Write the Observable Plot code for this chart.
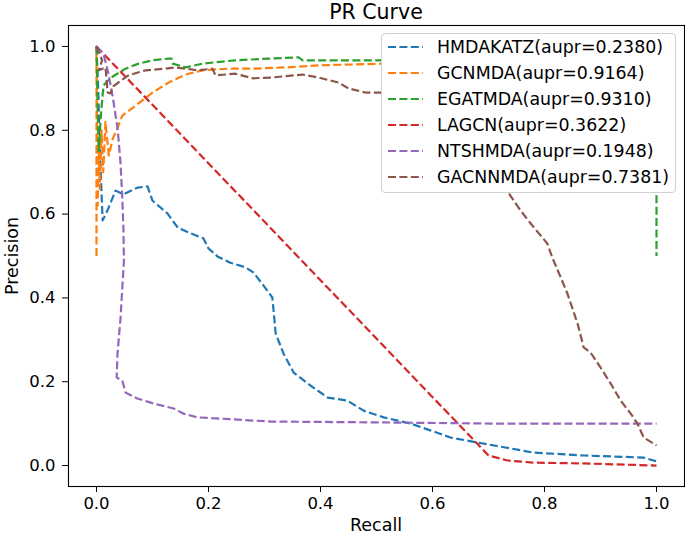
<!DOCTYPE html>
<html>
<head>
<meta charset="utf-8">
<script src="https://cdn.jsdelivr.net/npm/d3@7"></script>
<script src="https://cdn.jsdelivr.net/npm/@observablehq/plot@0.6"></script>
<style>
  html, body { margin: 0; padding: 0; background: #fff; }
  #wrap { position: relative; width: 685px; height: 539px; font-family: "DejaVu Sans", sans-serif; color: #000; }
  #wrap > svg { position: absolute; left: 0; top: 0; }
  .title { position: absolute; left: 68px; width: 616px; top: 0px; text-align: center; font-size: 20.5px; line-height: 24px; }
  .xlabel { position: absolute; left: 68px; width: 616px; top: 514px; text-align: center; font-size: 17.5px; line-height: 22px; }
  .ylabel { position: absolute; left: 12px; top: 256px; font-size: 17.5px; line-height: 22px; transform: translate(-50%, -50%) rotate(-90deg); white-space: nowrap; }
  .legend { position: absolute; left: 381px; top: 33px; width: 295px; height: 160px; background: #fff; border: 1px solid #d0d0d0; border-radius: 4px; box-sizing: border-box; }
  .legend .row { position: absolute; left: 6px; height: 22px; display: flex; align-items: center; font-size: 17.4px; line-height: 22px; white-space: nowrap; }
  .legend .row svg { margin-right: 14px; display: block; }
</style>
</head>
<body>
<div id="wrap"></div>
<script>
// ---- data ----
const models = ["HMDAKATZ", "GCNMDA", "EGATMDA", "LAGCN", "NTSHMDA", "GACNNMDA"];
const auprs = ["0.2380", "0.9164", "0.9310", "0.3622", "0.1948", "0.7381"];
const ticks = [0, 0.2, 0.4, 0.6, 0.8, 1.0];

// [recall, precision]
const HMDAKATZ = [[0,1.0],[0.003,0.9],[0.006,0.75],[0.011,0.585],[0.02,0.61],[0.034,0.656],[0.048,0.647],[0.073,0.663],[0.091,0.666],[0.1,0.632],[0.127,0.601],[0.145,0.568],[0.168,0.554],[0.191,0.542],[0.2,0.518],[0.216,0.499],[0.239,0.484],[0.266,0.473],[0.28,0.461],[0.298,0.43],[0.314,0.401],[0.32,0.315],[0.334,0.267],[0.352,0.222],[0.382,0.191],[0.413,0.162],[0.448,0.155],[0.477,0.131],[0.513,0.115],[0.561,0.1],[0.596,0.084],[0.632,0.067],[0.68,0.055],[0.73,0.043],[0.78,0.031],[0.87,0.024],[0.977,0.019],[1.0,0.01]];
const GCNMDA = [[0,0.5],[0,1.0],[0.002,0.62],[0.004,0.75],[0.006,0.66],[0.009,0.8],[0.012,0.7],[0.016,0.82],[0.022,0.74],[0.029,0.78],[0.036,0.8],[0.046,0.835],[0.07,0.859],[0.1,0.89],[0.129,0.914],[0.159,0.933],[0.189,0.943],[0.236,0.947],[0.279,0.947],[0.338,0.95],[0.396,0.955],[0.457,0.957],[0.511,0.959],[0.75,0.965],[1.0,0.971]];
const EGATMDA = [[0,1.0],[0.002,0.85],[0.004,0.75],[0.008,0.84],[0.0125,0.907],[0.025,0.925],[0.052,0.947],[0.075,0.959],[0.1,0.967],[0.129,0.971],[0.134,0.971],[0.136,0.959],[0.159,0.95],[0.189,0.959],[0.248,0.967],[0.307,0.971],[0.361,0.974],[0.368,0.967],[0.504,0.967],[0.8,0.975],[1.0,0.98],[1.0,0.5]];
const LAGCN = [[0,1.0],[0.7,0.024],[0.734,0.012],[0.78,0.007],[0.87,0.005],[1.0,0.0]];
const NTSHMDA = [[0,1.0],[0.007,0.99],[0.013,0.98],[0.021,0.937],[0.029,0.88],[0.038,0.8],[0.043,0.72],[0.046,0.64],[0.048,0.568],[0.049,0.489],[0.045,0.4],[0.043,0.353],[0.0375,0.267],[0.036,0.21],[0.046,0.203],[0.052,0.174],[0.073,0.16],[0.102,0.148],[0.138,0.136],[0.155,0.124],[0.18,0.115],[0.221,0.112],[0.311,0.105],[0.5,0.103],[0.72,0.1],[1.0,0.1]];
const GACNNMDA = [[0,1.0],[0.01,0.967],[0.004,0.943],[0.016,0.95],[0.02,0.89],[0.025,0.888],[0.03,0.905],[0.039,0.914],[0.057,0.931],[0.0875,0.943],[0.123,0.947],[0.141,0.95],[0.159,0.947],[0.182,0.943],[0.207,0.947],[0.2125,0.931],[0.248,0.935],[0.279,0.924],[0.314,0.926],[0.368,0.933],[0.396,0.926],[0.432,0.914],[0.45,0.9],[0.48,0.89],[0.511,0.89],[0.56,0.88],[0.62,0.86],[0.67,0.8],[0.71,0.72],[0.739,0.644],[0.757,0.609],[0.775,0.578],[0.805,0.53],[0.814,0.496],[0.829,0.449],[0.841,0.41],[0.859,0.339],[0.87,0.282],[0.882,0.27],[0.9,0.234],[0.918,0.196],[0.936,0.155],[0.954,0.124],[0.966,0.1],[0.977,0.067],[1.0,0.048]];

const seriesValues = [HMDAKATZ, GCNMDA, EGATMDA, LAGCN, NTSHMDA, GACNNMDA];

// ---- styles ----
const colors = ["#1f77b4", "#ff7f0e", "#2ca02c", "#d62728", "#9467bd", "#8c564b"];
const dash = "8,3.4";

const lineMarks = seriesValues.map((pts, i) => Plot.line(pts.map(([r, p]) => ({r, p})), {
  x: "r", y: "p", stroke: colors[i], strokeWidth: 2.2, strokeDasharray: dash,
  strokeLinejoin: "round", strokeLinecap: "butt"
}));

const chart = Plot.plot({
  width: 685, height: 539,
  marginLeft: 68, marginRight: 1, marginTop: 25, marginBottom: 53,
  style: {fontFamily: "DejaVu Sans, sans-serif", fontSize: "16.5px", color: "#000", background: "#fff"},
  x: {domain: [-0.05, 1.05]},
  y: {domain: [-0.05, 1.05]},
  marks: [
    ...lineMarks,
    Plot.axisX(ticks, {tickFormat: d3.format(".1f"), tickSize: 6, tickPadding: 5, label: null, stroke: "#000", fill: "#000", fontSize: 16.5}),
    Plot.axisY(ticks, {tickFormat: d3.format(".1f"), tickSize: 6, tickPadding: 7, label: null, stroke: "#000", fill: "#000", fontSize: 16.5}),
    Plot.frame({stroke: "#000", strokeWidth: 1.1})
  ]
});

const wrap = document.getElementById("wrap");
wrap.appendChild(chart);

function addDiv(cls, text) {
  const d = document.createElement("div");
  d.className = cls; d.textContent = text; wrap.appendChild(d); return d;
}
addDiv("title", "PR Curve");
addDiv("xlabel", "Recall");
addDiv("ylabel", "Precision");

const legend = document.createElement("div");
legend.className = "legend";
models.forEach((m, i) => {
  const row = document.createElement("div");
  row.className = "row";
  row.style.top = (2 + i * 26) + "px";
  const ns = "http://www.w3.org/2000/svg";
  const s = document.createElementNS(ns, "svg");
  s.setAttribute("width", 35); s.setAttribute("height", 6);
  const l = document.createElementNS(ns, "line");
  l.setAttribute("x1", 0); l.setAttribute("x2", 35); l.setAttribute("y1", 3); l.setAttribute("y2", 3);
  l.setAttribute("stroke", colors[i]); l.setAttribute("stroke-width", 2.2); l.setAttribute("stroke-dasharray", dash);
  s.appendChild(l);
  row.appendChild(s);
  const t = document.createElement("span");
  t.textContent = `${m}(aupr=${auprs[i]})`;
  row.appendChild(t);
  legend.appendChild(row);
});
wrap.appendChild(legend);
</script>
</body>
</html>
